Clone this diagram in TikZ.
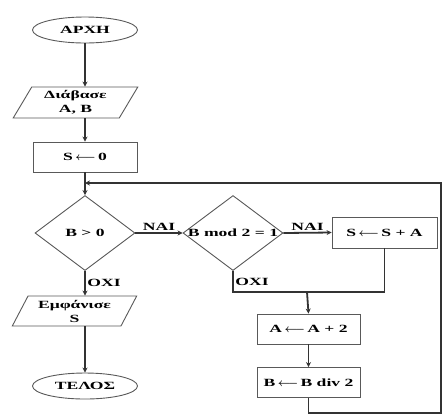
\documentclass[tikz,border=0pt]{standalone}
\usepackage{fontspec}
\setmainfont[FakeStretch=1.6]{Liberation Serif}
\usetikzlibrary{shapes.geometric,arrows.meta}
\newcommand{\asg}{\hspace{2.5pt}$\longleftarrow$\hspace{2.5pt}}
\begin{document}
\begin{tikzpicture}[x=1pt,y=-1pt,
  line/.style={draw=black!80, line width=1.8pt},
  arr/.style={line, -{Stealth[length=5pt,width=5pt]}},
  txt/.style={font=\fontsize{11}{14}\selectfont\bfseries\boldmath},
  shp/.style={draw=black!65, line width=0.9pt, txt, inner sep=0pt},
  term/.style={shp, ellipse, minimum width=105, minimum height=26},
  io/.style={shp, trapezium, trapezium left angle=61, trapezium right angle=119, trapezium stretches=true, minimum width=125, minimum height=31, align=center},
  proc/.style={shp, rectangle, minimum width=104, minimum height=30},
  dec/.style={shp, diamond, minimum width=100, minimum height=75},
  lab/.style={txt, inner sep=1.5pt}]
\useasboundingbox (0,0) rectangle (443,416);
\node[term] (start) at (85,30) {ΑΡΧΗ};
\node[io] (read) at (75.5,102.5) {Διάβασε\\A, B};
\node[proc] (init) at (85,157) {S\asg 0};
\coordinate (merge) at (85,183);
\node[dec] (d1) at (85,233) {};
\node[txt] (d1t) at (d1) {B > 0};
\node[dec] (d2) at (233,233) {};
\node[txt] (d2t) at (d2) {B mod 2 = 1};
\node[proc, minimum width=105, minimum height=31] (add) at (384.5,232.5) {S\asg S + A};
\node[io, minimum height=30] (out) at (74.5,311) {Εμφάνισε\\S};
\node[term] (end) at (85,386) {ΤΕΛΟΣ};
\coordinate (join) at (307,292);
\node[proc, minimum width=103] (dbl) at (308.5,329) {A\asg A + 2};
\node[proc, minimum width=103] (half) at (308.5,382.5) {B\asg B div 2};
\coordinate (bot) at (308.5,413);
\coordinate (br) at (441,413);
\coordinate (tr) at (441,183);

\draw[arr] (start.south) -- (start.south |- read.north);
\draw[arr] (start.south |- read.south) -- (init.north);
\draw[line] (init.south) -- (merge);
\draw[arr] (merge) -- (d1.north);
\draw[arr] (half.south) -- (bot) -- (br) -- (tr) -- (merge);
\draw[arr] (d1.east) -- node[lab, above] (nai1) {ΝΑΙ} (d2.west);
\draw[arr] (d2.east) -- node[lab, above] (nai2) {ΝΑΙ} (add.west);
\draw[arr] (d1.south) -- node[lab, right] (oxi1) {ΟΧΙ} (d1.south |- out.north);
\draw[arr] (d1.south |- out.south) -- (end.north);
\draw[line] (d2.south) -- node[lab, right] (oxi2) {ΟΧΙ} (d2.south |- join) -- (add.south |- join) -- (add.south);
\draw[arr] (join) -- (dbl.north);
\draw[arr] (dbl.south) -- (half.north);
\end{tikzpicture}
\end{document}
